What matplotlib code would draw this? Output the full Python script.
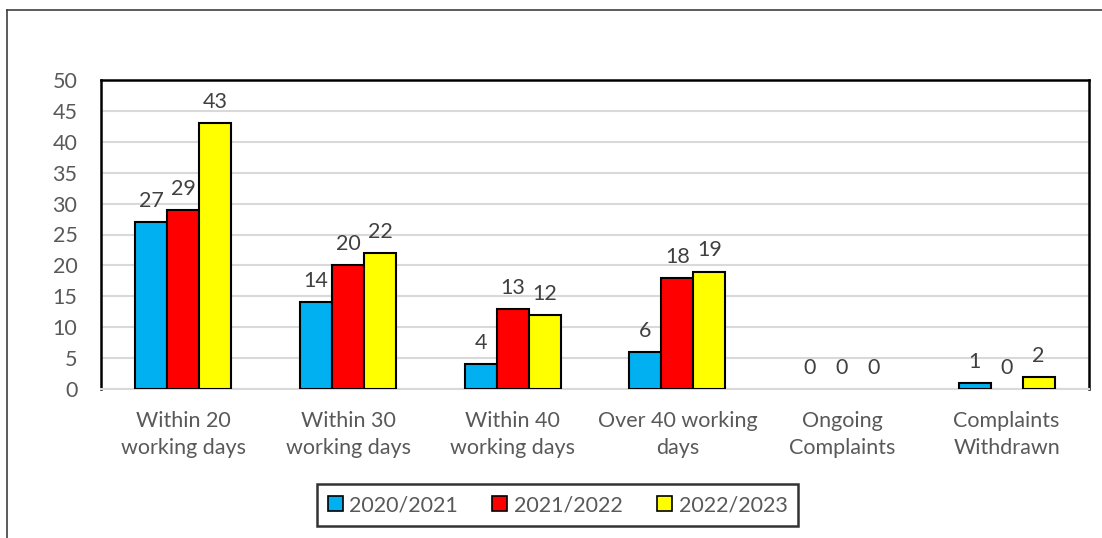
import numpy as np
import matplotlib.pyplot as plt
from matplotlib.lines import Line2D

# complaint response times by year
categories = ["Within 20\nworking days", "Within 30\nworking days", "Within 40\nworking days",
              "Over 40 working\ndays", "Ongoing\nComplaints", "Complaints\nWithdrawn"]
years = ["2020/2021", "2021/2022", "2022/2023"]
v_2020 = [27, 14, 4, 6, 0, 1]
v_2021 = [29, 20, 13, 18, 0, 0]
v_2022 = [43, 22, 12, 19, 0, 2]
colors = ["#00B0F0", "#FF0000", "#FFFF00"]

plt.rcParams['font.family'] = ['Lato', 'DejaVu Sans']
fs = 15.5

fig = plt.figure(figsize=(11.02, 5.38), dpi=100)
ax = fig.add_axes([101 / 1102, 1 - 389 / 538, (1089 - 101) / 1102, (389 - 80) / 538])

x = np.arange(len(categories))
w = 0.194
for i, (vals, c, lab) in enumerate(zip([v_2020, v_2021, v_2022], colors, years)):
    bars = ax.bar(x + (i - 1) * w, vals, w, color=c, edgecolor="black", linewidth=1.5,
                  label=lab, zorder=3)
    for b, v in zip(bars, vals):
        if v == 0:
            b.set_visible(False)  # empty bars leave no outline
        ax.annotate(str(v), (b.get_x() + b.get_width() / 2, v), xytext=(0, 8),
                    textcoords="offset points", ha="center", va="bottom",
                    fontsize=fs, color="#404040")

ax.set_xlim(-0.5, len(categories) - 0.5)
ax.set_ylim(0, 50)
ax.set_yticks(range(0, 51, 5))
ax.set_xticks(x)
ax.set_xticklabels(categories, linespacing=1.45)
ax.tick_params(axis="both", length=0, labelsize=fs, labelcolor="#595959")
ax.tick_params(axis="y", pad=17)
ax.tick_params(axis="x", pad=16)
ax.yaxis.grid(True, color="#D9D9D9", linewidth=1.5, zorder=0)
ax.set_axisbelow(True)
for s in ["top", "left", "right"]:
    ax.spines[s].set_linewidth(1.8)
    ax.spines[s].set_color("black")
ax.spines["bottom"].set_color("#D9D9D9")
ax.spines["bottom"].set_linewidth(1.5)

leg = fig.legend(loc="center", bbox_to_anchor=(557.5 / 1102, 1 - 505 / 538), ncol=3,
                 fontsize=fs, frameon=True, fancybox=False, edgecolor="black",
                 handlelength=0.7, handleheight=0.7, handletextpad=0.3,
                 columnspacing=1.6, borderpad=0.5, labelcolor="#595959")
leg.get_frame().set_linewidth(1.8)
for h in leg.legend_handles:
    h.set_visible(True)
    h.set_linewidth(1.2)

# outer frame lines
fig.add_artist(Line2D([7 / 1102, 1.0], [1 - 10 / 538, 1 - 10 / 538], color="#404040", linewidth=1.2))
fig.add_artist(Line2D([7 / 1102, 7 / 1102], [0, 1 - 10 / 538], color="#404040", linewidth=1.2))

fig.savefig("out.png", dpi=100)
